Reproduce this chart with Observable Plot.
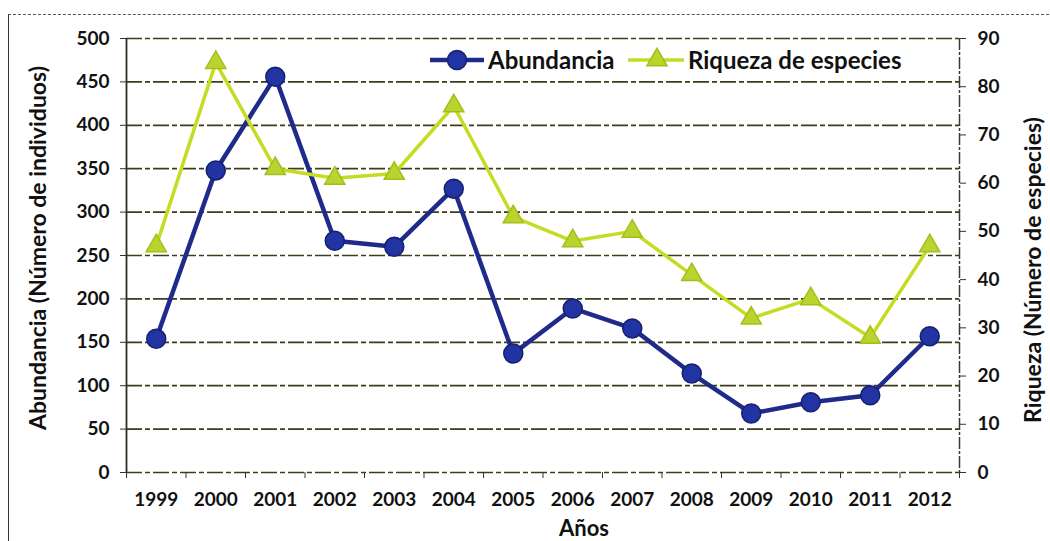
<!DOCTYPE html>
<html><head><meta charset="utf-8">
<script src="https://cdn.jsdelivr.net/npm/d3@7"></script>
<script src="https://cdn.jsdelivr.net/npm/@observablehq/plot@0.6"></script>
<style>
body{margin:0;background:#fff;}
#wrap{position:relative;width:1050px;height:541px;overflow:hidden;font-family:Lato,"Open Sans",sans-serif;font-weight:bold;color:#111;background:#fff}
#frame{position:absolute;left:8px;top:14px;width:1060px;height:560px;border-top:1.5px dashed #555;border-left:1.5px solid #333}
#chart{position:absolute;left:0;top:0}
.lbl{position:absolute;white-space:nowrap;font-weight:bold;color:#111}
#legend{position:absolute;left:0;top:0}
</style></head>
<body><div id="wrap"><div id="frame"></div><div id="chart"></div>
<div class="lbl" id="ylab" style="left:37px;top:248px;font-size:23px;transform:translate(-50%,-50%) rotate(-90deg)">Abundancia (Número de individuos)</div>
<div class="lbl" id="y2lab" style="left:1032px;top:270px;font-size:23px;transform:translate(-50%,-50%) rotate(-90deg)">Riqueza (Número de especies)</div>
<div class="lbl" id="xlab" style="left:584px;top:527px;font-size:22px;transform:translate(-50%,-50%)">Años</div>
</div>
<script>
const years = [1999,2000,2001,2002,2003,2004,2005,2006,2007,2008,2009,2010,2011,2012];
const abundancia = [154,348,456,267,260,327,137,189,166,114,68,81,89,157];
const riqueza = [47,85,63,61,62,76,53,48,50,41,32,36,28,47];
const leftTicks = [0,50,100,150,200,250,300,350,400,450,500];
const rightTicks = [0,10,20,30,40,50,60,70,80,90];
const seriesNames = ["Abundancia","Riqueza de especies"];
const blue = "#1f2b8a", blueFill = "#2233a3", yellow = "#c6dc22", yellowFill = "#bad32e";

const k = 500/90; // secondary axis mapping
const data = years.map((year,i)=>({year, a: abundancia[i], r: riqueza[i]*k}));
const boundaries = years.map(y=>y-0.5).concat([years[years.length-1]+0.5]);

const plot = Plot.plot({
  width:1050, height:541,
  marginLeft:126, marginRight:91, marginTop:38, marginBottom:69,
  x:{domain:[1998.5,2012.5]},
  y:{domain:[0,500]},
  style:{fontFamily:"Lato, 'Open Sans', sans-serif", fontWeight:"bold", fontSize:"19px", color:"#111", background:"transparent", overflow:"visible"},
  marks:[
    Plot.ruleY(leftTicks,{stroke:"#3c3c1e", strokeWidth:1.7, strokeDasharray:"16,3,5,3"}),
    Plot.ruleX([1998.5],{stroke:"#2e2e22", strokeWidth:1.8}),
    Plot.ruleX([2012.5],{stroke:"#3a3a28", strokeWidth:1.5, strokeDasharray:"12,2,3,2"}),
    Plot.axisY(leftTicks,{anchor:"left", tickSize:6, tickPadding:11, label:null, stroke:"#333", fontSize:19}),
    Plot.axisY(rightTicks.map(v=>v*k),{anchor:"right", tickSize:6, tickPadding:12, tickFormat:d=>String(Math.round(d/k)), label:null, stroke:"#333", fontSize:19}),
    Plot.axisX(boundaries,{tickSize:6, tickFormat:()=>"", label:null, stroke:"#333"}),
    Plot.axisX(years,{tickSize:0, tickPadding:20, tickFormat:d=>String(d), label:null, fontSize:19}),
    Plot.line(data,{x:"year", y:"a", stroke:blue, strokeWidth:4.5}),
    Plot.dot(data,{x:"year", y:"a", r:9.5, fill:blueFill, stroke:"#16206e", strokeWidth:1.5}),
    Plot.line(data,{x:"year", y:"r", stroke:yellow, strokeWidth:3.5}),
    Plot.dot(data,{x:"year", y:"r", symbol:"triangle", r:7.5, fill:yellowFill, stroke:"#a6be1c", strokeWidth:1.5})
  ]
});
document.getElementById("chart").appendChild(plot);

// legend (inside plot area, top right)
const wrap = d3.select("#wrap");
const leg = wrap.append("svg").attr("id","legend").attr("width",1050).attr("height",100)
  .style("position","absolute").style("left","0px").style("top","0px");
const ly = 60;
leg.append("line").attr("x1",430).attr("x2",484).attr("y1",ly).attr("y2",ly).attr("stroke",blue).attr("stroke-width",4.5);
leg.append("circle").attr("cx",457).attr("cy",ly).attr("r",9.5).attr("fill",blueFill).attr("stroke","#16206e").attr("stroke-width",1.5);
leg.append("text").attr("x",488).attr("y",ly).attr("dy","0.36em").attr("font-size",24).attr("font-weight","bold")
  .attr("font-family","Lato, 'Open Sans', sans-serif").attr("fill","#111").text(seriesNames[0]);
leg.append("line").attr("x1",628).attr("x2",684).attr("y1",ly).attr("y2",ly).attr("stroke",yellow).attr("stroke-width",3.5);
leg.append("path").attr("d",d3.symbol(d3.symbolTriangle, 7.5*7.5*Math.PI)()).attr("transform",`translate(657,${ly})`)
  .attr("fill",yellowFill).attr("stroke","#a6be1c").attr("stroke-width",1.5);
leg.append("text").attr("x",688).attr("y",ly).attr("dy","0.36em").attr("font-size",24).attr("font-weight","bold")
  .attr("font-family","Lato, 'Open Sans', sans-serif").attr("fill","#111").text(seriesNames[1]);
</script>
</body></html>
